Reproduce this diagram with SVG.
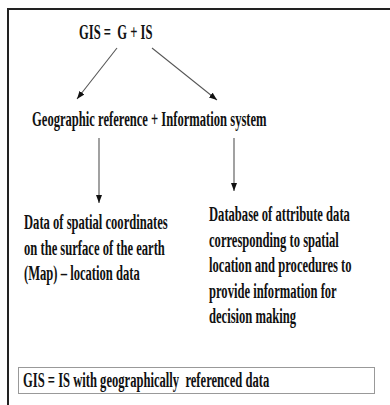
<svg xmlns="http://www.w3.org/2000/svg" width="390" height="405" viewBox="0 0 390 405">
<defs>
<style>
.t{font-family:"Liberation Serif","Times New Roman",serif;font-weight:bold;font-size:21px;fill:#111;}
.c{stroke:#555;stroke-width:1.1;fill:none;marker-end:url(#ah);}
</style>
<marker id="ah" markerUnits="userSpaceOnUse" markerWidth="9" markerHeight="7" refX="8" refY="3.5" orient="auto">
<path d="M0,0.5 L8,3.5 L0,6.5 z" fill="#111"/>
</marker>
</defs>
<rect width="390" height="405" fill="#fff"/>
<path d="M8,405 V9 H390" fill="none" stroke="#222" stroke-width="2"/>
<g id="title">
<text class="t" xml:space="preserve" transform="translate(79,39) scale(0.6,1)">GIS =  G + IS</text>
</g>
<g id="geo-info">
<text class="t" transform="translate(32,126) scale(0.6,1)">Geographic reference + Information system</text>
</g>
<g id="spatial">
<text class="t" transform="translate(24,229) scale(0.6,1)">Data of spatial coordinates</text>
<text class="t" transform="translate(24,254.5) scale(0.6,1)">on the surface of the earth</text>
<text class="t" transform="translate(24,280) scale(0.6,1)">(Map) – location data</text>
</g>
<g id="attribute">
<text class="t" transform="translate(209,221) scale(0.6,1)">Database of attribute data</text>
<text class="t" transform="translate(209,246.5) scale(0.6,1)">corresponding to spatial</text>
<text class="t" transform="translate(209,272) scale(0.6,1)">location and procedures to</text>
<text class="t" transform="translate(209,297.5) scale(0.6,1)">provide information for</text>
<text class="t" transform="translate(209,323) scale(0.6,1)">decision making</text>
</g>
<g id="summary">
<rect x="18.5" y="367.5" width="356" height="26" fill="#fff" stroke="#999" stroke-width="1"/>
<text class="t" xml:space="preserve" transform="translate(23,387) scale(0.6,1)">GIS = IS with geographically  referenced data</text>
</g>
<g id="connectors">
<line class="c" x1="117" y1="48" x2="77" y2="99"/>
<line class="c" x1="152" y1="48" x2="217" y2="100"/>
<line class="c" x1="99" y1="138" x2="99" y2="203"/>
<line class="c" x1="234" y1="138" x2="234" y2="191" stroke="#777"/>
</g>
</svg>
